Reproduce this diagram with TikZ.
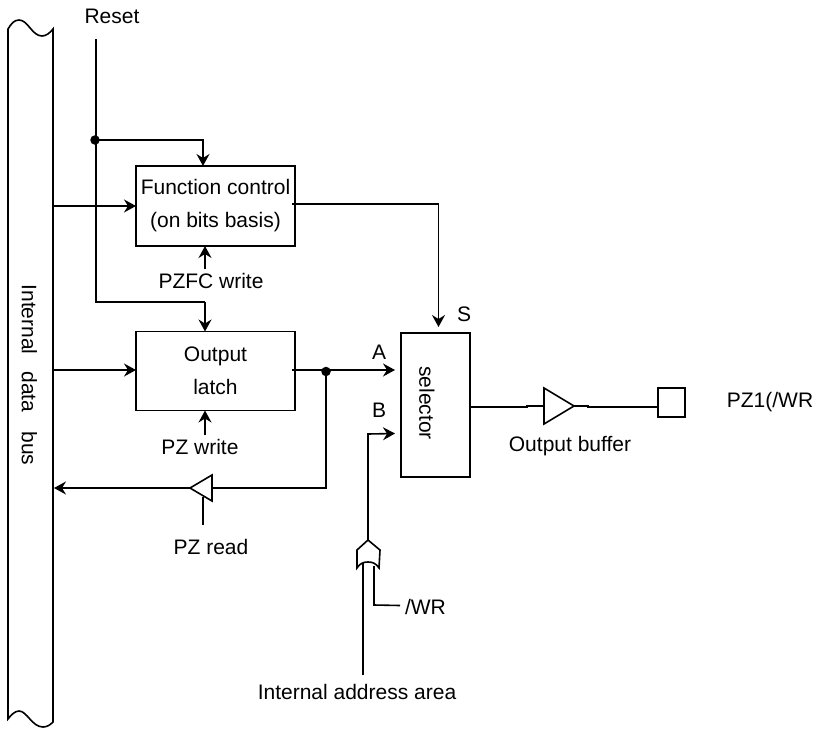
\documentclass[tikz,border=0pt]{standalone}
\usepackage{fontspec}
\setmainfont{Liberation Sans}
\usetikzlibrary{arrows.meta}
\tikzset{
  wire/.style={line width=1.6pt,line join=miter},
  arr/.style={wire,-{Stealth[length=12pt,width=13pt,inset=4pt]}},
  blockbox/.style={draw,line width=1.6pt,outer sep=0pt,inner sep=0pt,align=center},
  lbl/.style={inner sep=0pt,outer sep=0pt,font=\fontsize{21}{33}\selectfont},
  dot/.style={circle,fill=black,inner sep=0pt,minimum size=9.5pt,outer sep=0pt}
}
\begin{document}
\begin{tikzpicture}[x=1pt,y=-1pt]
\useasboundingbox (0,0) rectangle (816,728);
% bus
\draw[wire] (8,29) .. controls (11,24) and (14,20) .. (19,20)
  .. controls (28,20) and (32,36) .. (42,36)
  .. controls (46,36) and (50,33) .. (53,29) -- (53,722)
  .. controls (50,725) and (47,727) .. (43,727)
  .. controls (32,727) and (27,711) .. (19,711)
  .. controls (15,711) and (11,715) .. (8,719) -- cycle;
\node[lbl,rotate=-90] (busl) at (29.5,375) {Internal\hspace{17pt}data\hspace{19pt}bus};
\coordinate (busA) at (53,206);
\coordinate (busB) at (53,370);
\coordinate (busC) at (54,488);
% boxes
\node[blockbox,lbl,draw,minimum width=159pt,minimum height=80pt] (fc) at (215.5,206) {Function control\\(on bits basis)};
\node[blockbox,lbl,draw,minimum width=159pt,minimum height=79pt] (ol) at (215.5,371) {Output\\latch};
\node[blockbox,minimum width=69pt,minimum height=144pt] (sel) at (435.5,405) {};
\node[lbl,rotate=-90] (sell) at (427,403) {selector};
\node[blockbox,minimum width=27pt,minimum height=29pt] (pad) at (671.5,402.5) {};
% labels
\node[lbl] (reset) at (112,16) {Reset};
\node[lbl] (pzfc) at (211,281) {PZFC write};
\node[lbl] (pzw) at (200,447) {PZ write};
\node[lbl] (pzr) at (211,547) {PZ read};
\node[lbl] (la) at (379,352) {A};
\node[lbl] (lb) at (379,410) {B};
\node[lbl] (ls) at (464,314) {S};
\node[lbl] (obl) at (570,446) {Output buffer};
\node[lbl] (pzo) at (770,402) {PZ1(/WR};
\node[lbl,anchor=west] (wrl) at (405,607) {/WR};
\node[lbl] (iaa) at (357,692) {Internal address area};
% reset
\coordinate (rtop) at (96,39);
\node[dot] (j1) at (95,140) {};
\coordinate (rbot) at (96,302);
\coordinate (rfc) at (203,140);
\coordinate (rol) at (205,302);
\draw[wire] (rtop) -- (rbot) -- (rol);
\draw[arr] (j1.center) -- (rfc) -- (rfc |- fc.north);
\draw[arr] (rol) -- (rol |- ol.north);
% bus to blocks
\draw[arr] (busA) -- (busA -| fc.west);
\draw[arr] (busB) -- (busB -| ol.west);
% write strobes
\coordinate (wfc) at (205,269);
\coordinate (wol) at (205,435);
\draw[arr] (wfc) -- (wfc |- fc.south);
\draw[arr] (wol) -- (wol |- ol.south);
% fc to selector
\coordinate (fcs) at (292,204);
\coordinate (fcc) at (438.5,204);
\draw[arr] (fcs) -- (fcc) -- (438.5,327);
% latch to selector
\coordinate (ols) at (292,370);
\coordinate (atip) at (395,370);
\draw[arr] (ols) -- (atip);
\node[dot] (j2) at (326,371.5) {};
% read back
\coordinate (rb) at (326,488);
\node[inner sep=0pt,outer sep=0pt,minimum size=0pt] (ta) at (190,488) {};
\coordinate (tt) at (212,475);
\coordinate (tb) at (212,501);
\draw[wire,line join=miter] (ta.center) -- (tt) -- (tb) -- cycle;
\draw[wire] (j2.center) -- (rb) -- (212,488);
\draw[arr] (ta.center) -- (busC);
\coordinate (cr) at (203,525);
\draw[wire] (cr) -- (203,497);
% OR gate and B
\coordinate (orapex) at (368,540);
\coordinate (orl) at (357,568);
\coordinate (orr) at (379,568);
\draw[wire] (orapex) -- (380,550) -- (orr)
  .. controls (376,563) and (372,562) .. (368,562)
  .. controls (364,562) and (360,563) .. (orl) -- (357,550) -- cycle;
\coordinate (bc) at (368,434);
\coordinate (btip) at (395,433.5);
\draw[arr] (orapex) -- (bc) -- (btip);
\coordinate (iaae) at (363,675);
\draw[wire] (iaae) -- (363,563);
\coordinate (wrc) at (374,605);
\coordinate (wre) at (400,605.5);
\draw[wire] (374,566) -- (wrc) -- (wre);
% output buffer
\coordinate (oa) at (574,406);
\coordinate (ob) at (544,388);
\coordinate (oc) at (544,424);
\draw[wire] (oa) -- (ob) -- (oc) -- cycle;
\draw[wire] (sel.east |- 0,407) -- (527,407) -- (527,406) -- (544,406);
\draw[wire] (oa) -- (588,406) -- (588,407) -- (pad.west |- 0,407);
\end{tikzpicture}
\end{document}
